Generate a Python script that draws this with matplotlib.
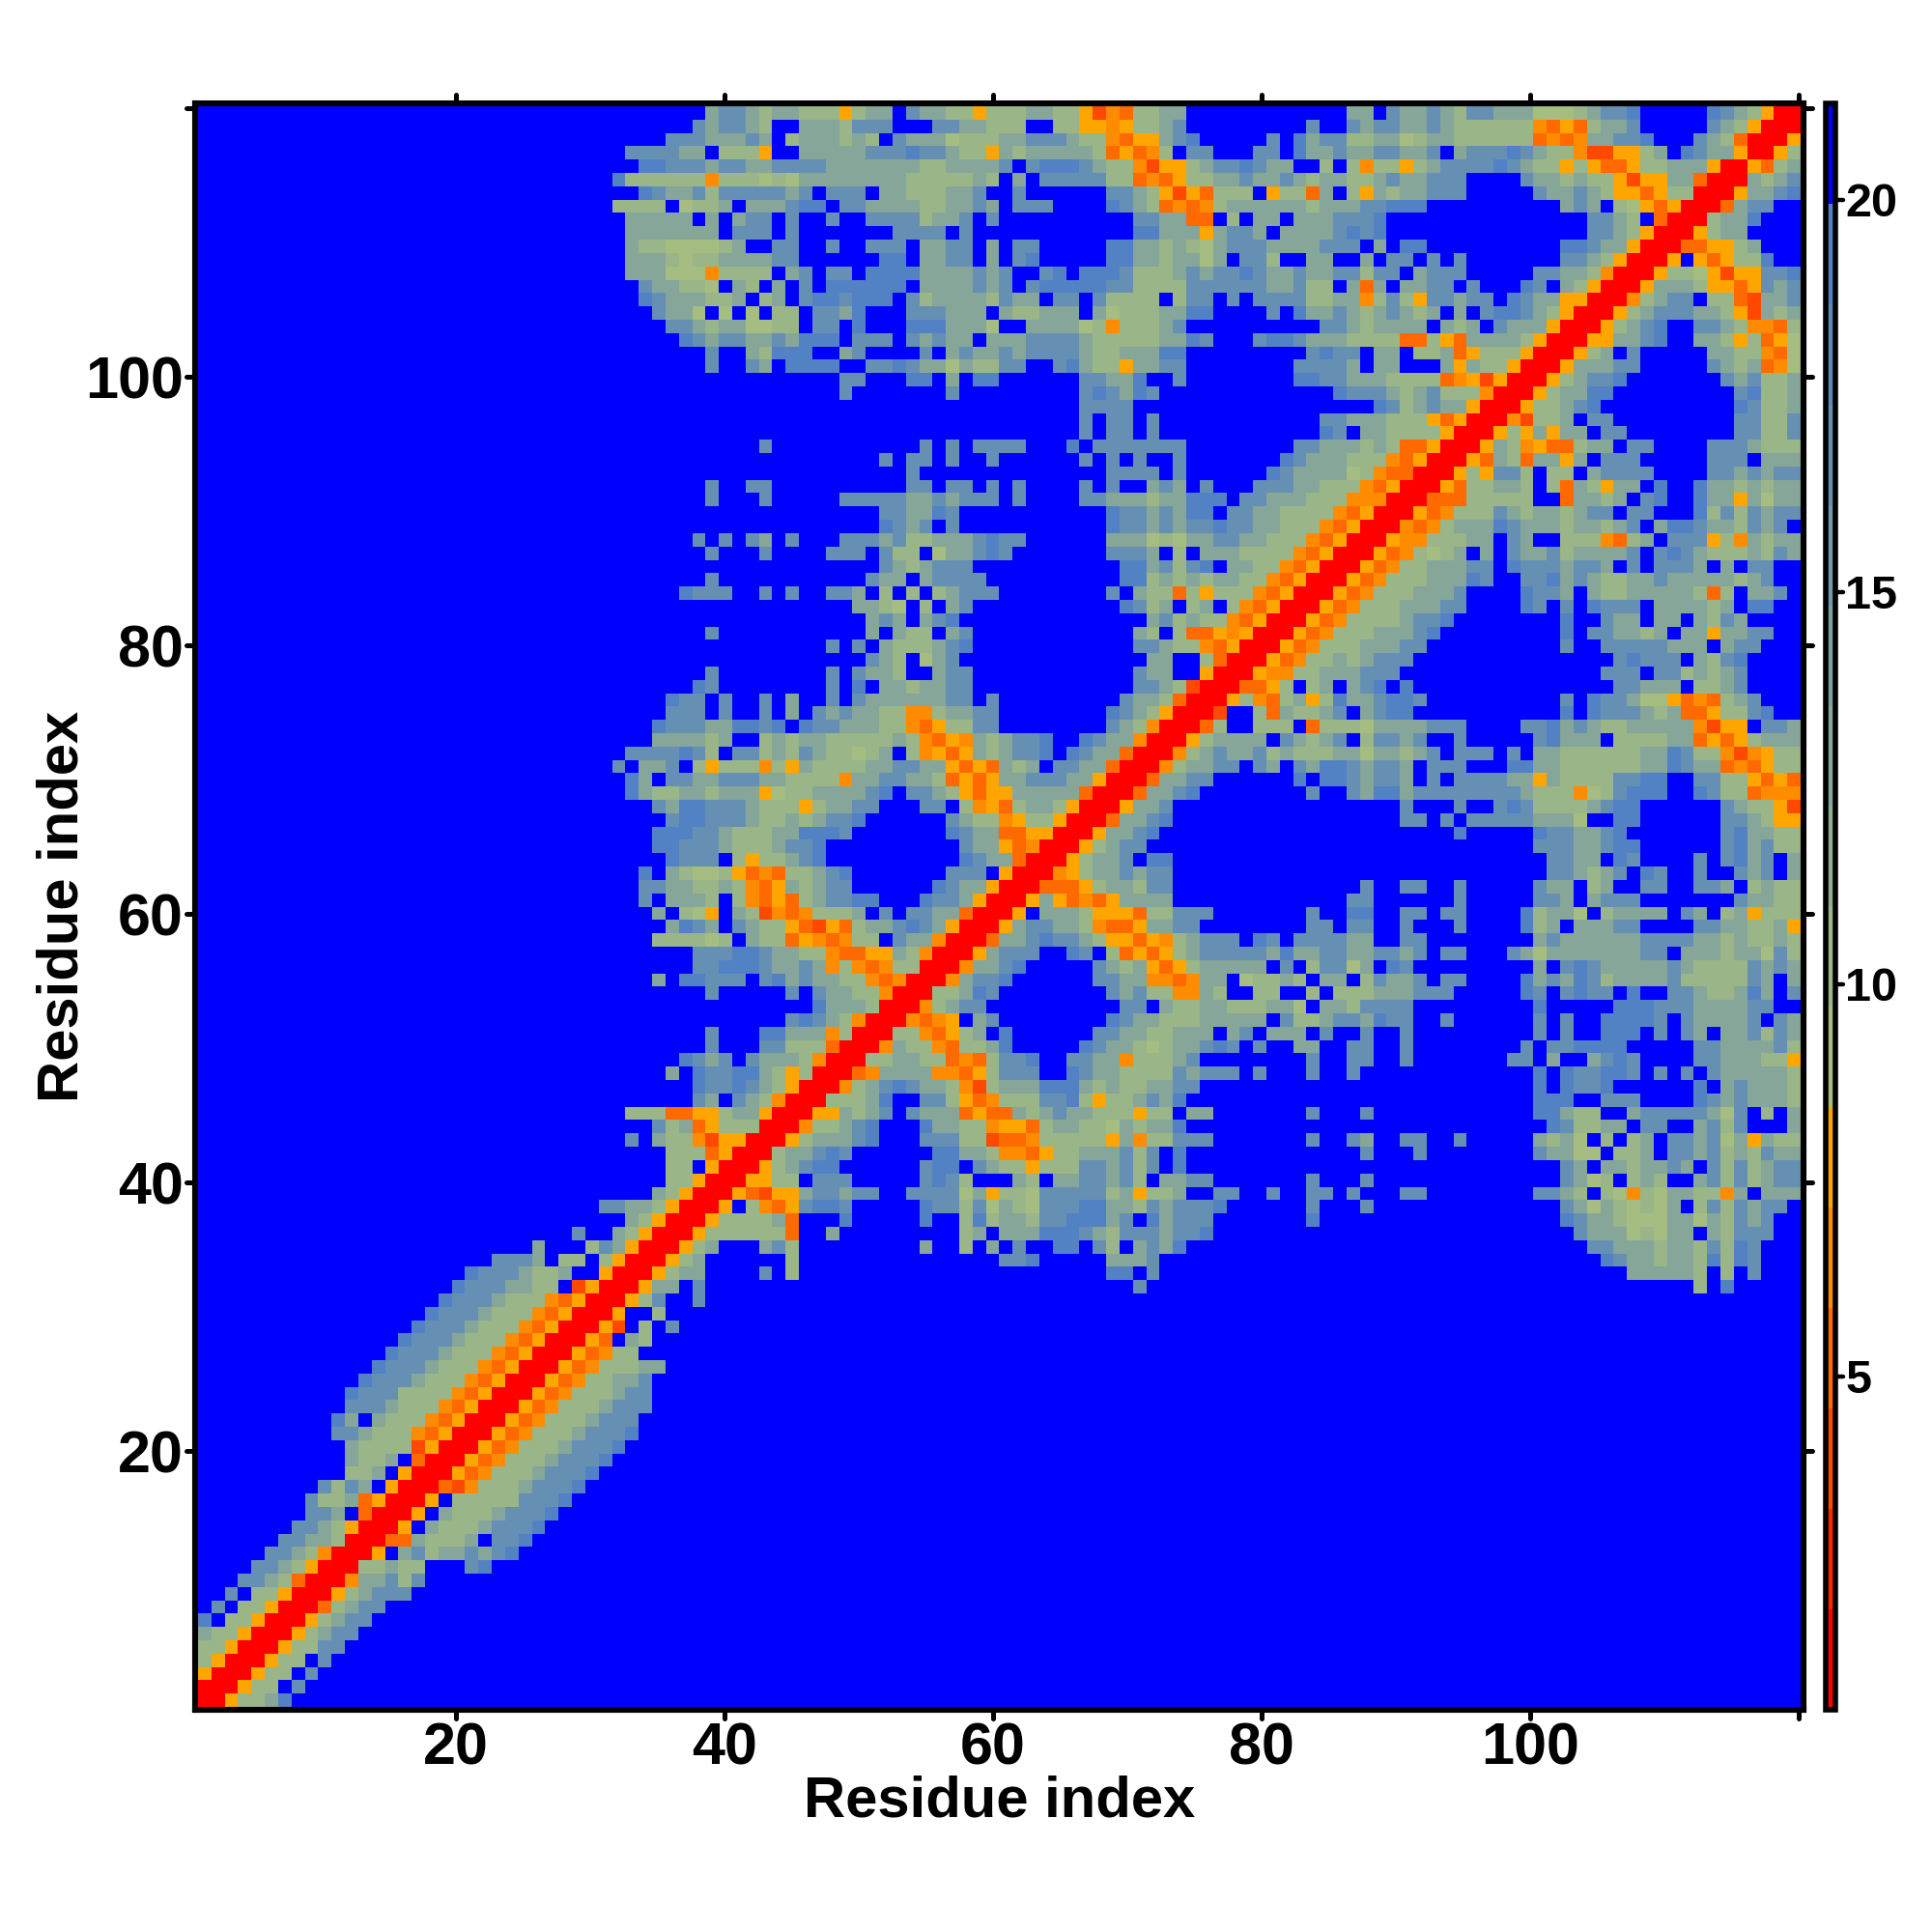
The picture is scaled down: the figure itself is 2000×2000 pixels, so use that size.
import numpy as np
import matplotlib
matplotlib.use("Agg")
import matplotlib.pyplot as plt
from matplotlib.colors import ListedColormap, BoundaryNorm, to_rgb
from matplotlib.markers import MarkerStyle

# distance map. the map is symmetric so only x <= y is kept
# each row is "first_column:cells", "." is blue (over the cutoff)
rows_y120_to_81 = [
    "39:cddcbccbbbobcc.dccbbobbbccbboxzybbcc 87:cc.dccdcbddcccaaabcdde 114:edcboRR",
    "38:dcddcb..cccbddd...ddccbbb..bboozobbcd 84:d 87:dcddccdcbbbbbbzyoybccd 114:dcboRR",
    "36:dddcccdc.bcccbcb.dcccabbbccdddcbbzyoocde 81:d.ecddbbccabccbbbbbbyzyzccdde 113:dcbyRR",
    "33:ddddcc.bbbo..cccccdddeddcbbocbcccccbyoyzb.dd 80:dd.eccdccddccd.cdddedcbbzxxoobc.edccoRR",
    "34:eedddcddccddddcccccccbbccccd.deeedcbbzxoobc 77:ddedcc..b.bzbbobcddddedcbboboyyobbcccoRR",
    "32:ebbbbbbzbbbabacccccccc 54:bbbbbcb.c.dddddbbyzyobb 77:ccdccdcbccbbcdccddd....dccbcbboxooccyRR",
    "34:edccdbdddddcd.ddd.ccbbbccd..d 69:ddcboxoy 77:bbb.obbyc.bocbccddd.....dccdcbooyobbRR",
    "32:bbbb.abbc.cccdee.ddccccbbccdc.ddd 69:edcbyzyz 77:bccccccbcccddeee 103:cdc.baoyoRR",
    "33:ccccc.c.cdd.d..d..ddddbccd.d 71:ddccyy 78:b.cc.cccddde 105:ddcb.yRR",
    "33:ccccccc.ddd.d 53:dddd.d 71:eeccco 77:cddc.ccccdede 105:ddcboRR",
    "33:cbbaaaabc..dd..d..ddd.ccdd.c.dd 69:eeccbcba 77:cdddccccddd.c.ee 103:eedccoRR",
    "33:cccbabbccccdd......ee.ccdd.c.de 69:eeccbcca 77:c.ddb..cc..c.dd.d.d 103:ddcboRR",
    "33:cccaaazbbbb.cd.dd.eeeeccccdcd..de.eeedbbbcdc 77:ddedccdccddbdd.cddd 101:ddccbzRR",
    "34:dccbba.cb.c.d.eeeeee.ccccdcd.deeeeeddbbbbdd 77:ddddccdbb.cyc.ccdd.d 100:ed.cboRR",
    "34:edcccbbc.bc.deedeee.dbccccbdcc.dd.dbbbb.bdd 77:.d.ddddbbcczbdboddcdd.edccooRR",
    "35:dcca.a.a.bb.ddce 54:dddccc.cbbccc.cabbbccee 81:d.eccdcbcdcbc.c.deedcboRR",
    "36:ddcbccaabb.dd.e 54:eeeccca..ccccabzbbbcd 85:ddcbcccc.cbc.dcccoRR",
    "37:edcddccdceee.ddd.dcdcc.cccddddcbbbbbcced 80:deedcccbbbbyyboyccccboRR",
    "39:d 42:cbeee..cd 55:d.cdccdcddddcbbcccee 84:dedd.cc.bbcyobbboRR",
    "39:d 42:dc.eeee..ddedccacbbdd..decbboccdd 83:ddddc.cc...cocbboRR",
    "49:dd 54:ee.c.ee 67:ddcce..d 83:eeddcccbbbbyzoxoRR",
    "49:d 57:d 67:dedced 86:edddcbcdbbbzRR",
    "67:dddd 89:edbcdccoRR",
    "67:d.dd 72:d 85:ddcccbbboyoRR",
    "67:d.dd 72:d 85:ed.ccbbbboRR",
    "43:d 55:d 57:d 59:dddd 66:e 68:ddddddd 83:ddcccbcbyyoRR",
    "52:d 54:dd 57:d 60:d 67:d 69:d 71:d 74:d 82:edcccbbbzyoRR",
    "54:d 69:dddd 74:d 81:edccccabzyyRR",
    "39:d 42:dd 54:dd 57:dd 60:d 62:d 67:d 69:d 72:cdc 76:d 80:dddccbbbzyoRR",
    "39:d 43:d 49:dddddccdcddd 62:d 67:ddcccbccee 77:e 79:ddcccbbbzzzRR",
    "52:ddcced 69:eddcdcee 78:ddccbbbbzyoRR",
    "52:edcd.d 69:eddcdcdd 77:eddccbbbzyoRR",
    "38:d.d 42:dc 45:d 49:dddcdbbcccded 62:d 69:cccabacc 77:ddccbbbzyoRR",
    "39:d 43:d 48:ddd 52:dbb.accded 69:dddc.b.c 77:ccbbbbzyoRR",
    "52:dcbcddd 70:eecdbde 77:.ccbbzyoRR",
    "39:d 51:dcc.cdddd 70:eebcbcb 77:ccbbzyoRR",
    "37:eddd 43:d 45:d 48:ddc.b.b.bcddd 69:d.cbbybo 77:bbbzyoRR",
    "50:ccba.b.cd 70:edbc.bc 77:.bzyoRR",
    "51:cdc.cde 72:cdbcb 77:bzyoRR",
    "39:d 51:c.cbb.cd 71:cb.by 76:yozoRR",
]
rows_y80_to_41 = [
    "48:d 50:d.cbbbcde 71:ddcbbzyoRR",
    "51:dcb.acd 72:cc..byRR",
    "39:d 48:d 50:dccb..cdd 71:dcc..oRR",
    "38:ed 48:d 50:e.ccbccdd 71:ddcbxRR",
    "36:edd.d 43:d 45:c 48:d 50:dccccccdd 60:d 70:dccbyRR",
    "36:ddd.d 43:d 45:c 47:dcdccbbzzbccdd 69:edcboRR",
    "35:edddcceede.eddcccbbzyobbdd 69:dcbzRR",
    "35:ccccbc..bcbccbbbbbcbzyozcbcdde 67:edcczRR",
    "33:ddddedb.ddbcbdcbbabc.bzoyocbcdde 66:edccyRR",
    "32:d.ccd.bobbbzbocbbbbccddccoyoycbc.ddccyRR",
    "33:ec.ddccdddccbbbbzccddccbyoyoccdddccoRR",
    "33:ecbbccbcccoabbccccde.ddcboyoocccccyRR",
    "35:dceedddcbbbobccdd 55:dd.bzoybccboRR",
    "36:deedddcbbcbcdde 57:dcbbzobboRR",
    "35:eeeddcbbbcceeed 57:edccyyooRR",
    "35:eedddcbbbcdde 58:dccoyzRR",
    "36:eddd.bobbcde 58:edccyRR",
    "34:e.cbaaboyzybbcde 57:ddd.oRR",
    "34:ddccbbcbzyocbcdd 56:edccoRR",
    "34:d.cccb.bzyoybcddee 55:eddcoRR",
    "35:c.bao.cbxzyzbbbc.d.ddccyRR",
    "36:cedc.dcbboyxoybccdedcoRR",
    "35:bbbbab.cbbyozyzbb.dcczRR",
    "38:dddeedccbbzyyoocbzRR",
    "38:ddeeedccdczbzyzbbRR",
    "35:c 37:eeddd 43:decdccbbzyzRR",
    "39:d 45:d 47:dccbbzRR",
    "47:ecccbRR",
    "45:dedcbzRR",
    "39:d 43:eeccczbRR",
    "39:d 43:ddbbbyRR",
    "37:edcd 42:dcccbzRR",
    "36:c 38:eddeecbobRR",
    "38:eddedcboRR",
    "38:dc.dcbzRR",
    "33:bbbyyoobccoRR",
    "35:dbcyobbbRR",
    "33:d 35:cbbzxooRR",
    "36:bbbyoRR",
    "36:bb.oRR",
]
rows_y40_to_1 = [
    "36:bboRR",
    "35:cboRR",
    "31:ddccboRR",
    "33:cboRR",
    "29:d 32:cboRR",
    "26:c 30:bdcoRR",
    "23:dddc.bb.boRR",
    "21:edddcbbc..oRR",
    "20:edddccbb.xoRR",
    "19:edddcbbbzyoRR",
    "18:edddcbbbzyoRR",
    "17:edddcbbbzyoRR",
    "16:edddcbbbzyoRR",
    "15:edddcbbbzyoRR",
    "14:edddcbbbzyoRR",
    "13:edddcbbbzyoRR",
    "12:edddbbbbzyoRR",
    "12:dddcbbbzyoRR",
    "11:ec.cbbbzyoRR",
    "11:ddcbbbzyoRR",
    "12:cbbbbxoRR",
    "12:cbbc.yRR",
    "12:bbc.oRR",
    "10:dbdc.oRR",
    "9:dbbcyoRR",
    "9:ddc.yRR",
    "8:ddcboRR",
    "7:ddccbRR",
    "6:ddcbzRR",
    "5:ddcboRR",
    "4:ddcbyRR",
    "3:d.bboRR",
    "2:d.bboRR",
    "1:e.bboRR",
    "1:cbboRR",
    "1:bboRR",
    "1:boRR",
    "1:oRR",
    "1:RR",
    "1:R",
]
cell_codes = ["R", "x", "y", "z", "o", "a", "b", "c", "d", "e", "."]
cell_values = [1.4, 4.0, 5.2, 6.5, 7.8, 9.1, 10.4, 13.0, 16.8, 19.3, 20.6]

bar_ticks = [5, 10, 15, 20]
axis_ticks = [20, 40, 60, 80, 100, 120]
axis_labels = ["20", "40", "60", "80", "100", ""]

value_of = dict(zip(cell_codes, cell_values))
n = 120
dist = np.full((n, n), 20.6)
all_rows = rows_y120_to_81 + rows_y80_to_41 + rows_y40_to_1
for i, row in enumerate(all_rows):
    y = n - i
    for seg in row.split():
        start, cells = seg.split(":")
        for k, ch in enumerate(cells):
            x = int(start) + k
            if x <= y:
                dist[y - 1, x - 1] = value_of[ch]
                dist[x - 1, y - 1] = value_of[ch]

# stepped colour scale, red to orange then green to slate, blue over 20
edges = [0.75 + 1.28 * i for i in range(16)] + [21.23]
hot = ["#ff0000", "#ff2400", "#ff4800", "#ff6a00", "#ff8c00", "#ffa500"]
light = np.array(to_rgb("#a5bd80"))
dark = np.array(to_rgb("#5282c4"))
cool = [tuple(light + (dark - light) * i / 8) for i in range(9)]
cmap = ListedColormap(hot + cool + ["#0000ff"])
norm = BoundaryNorm(edges, cmap.N)

plt.rcParams["font.family"] = "Liberation Sans"
plt.rcParams["font.weight"] = "bold"

fig = plt.figure(figsize=(10, 10), dpi=200)
ax = fig.add_axes([202 / 2000, 1 - 1770 / 2000, 1665 / 2000, 1663 / 2000])
im = ax.imshow(dist, origin="lower", cmap=cmap, norm=norm, aspect="auto",
               interpolation="nearest", extent=(0.80, 120.14, 0.94, 120.14))
ax.set_xlim(0.58, 120.36)
ax.set_ylim(0.72, 120.36)
ax.set_xticks(axis_ticks)
ax.set_xticklabels(axis_labels, fontsize=22, fontweight="bold")
ax.set_yticks(axis_ticks)
ax.set_yticklabels(axis_labels, fontsize=22, fontweight="bold")
ax.tick_params(top=True, right=True, length=3.2, width=1.8, pad=1.2)
ax.set_xlabel("Residue index", fontsize=21.5, fontweight="bold")
ax.set_ylabel("Residue index", fontsize=21.5, fontweight="bold")
ax.xaxis.set_label_coords(0.5, -0.0405)
ax.yaxis.set_label_coords(-0.0660, 0.5)
for s in ax.spines.values():
    s.set_linewidth(2.2)

cax = fig.add_axes([1889.5 / 2000, 1 - 1770 / 2000, 11 / 2000, 1663 / 2000])
cb = fig.colorbar(im, cax=cax, spacing="proportional", drawedges=False)
cb.set_ticks(bar_ticks)
cb.set_ticklabels([str(t) for t in bar_ticks])
cb.ax.minorticks_off()
cb.ax.tick_params(length=3, width=1.6, pad=0.5, labelsize=17.5)
cb.outline.set_linewidth(2.0)

# the ticks have round ends in the original
for axis in [ax.xaxis, ax.yaxis, cb.ax.yaxis]:
    for tick in axis.get_major_ticks():
        for line in [tick.tick1line, tick.tick2line]:
            line.set_marker(MarkerStyle(line.get_marker(), capstyle="round"))

fig.savefig("out.png", dpi=200)
